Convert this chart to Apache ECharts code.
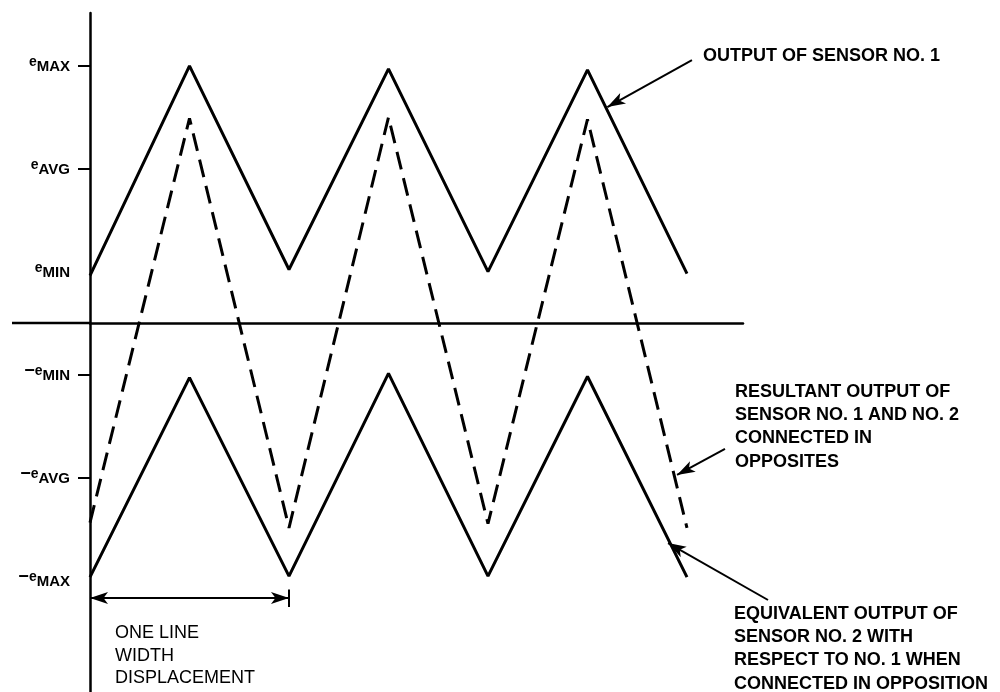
<!DOCTYPE html>
<html>
<head>
<meta charset="utf-8">
<script src="https://cdn.jsdelivr.net/npm/echarts@6/dist/echarts.min.js"></script>
<style>html,body{margin:0;padding:0;background:#fff}#c{width:1000px;height:692px}</style>
</head>
<body>
<div id="c"></div>
<script>
// Horizontal positions (in half line-width units) of the triangle vertices
var vertexX = [0, 1, 2, 3, 4, 5, 6];
// Output of sensor no. 1 (solid, top)
var sensor1 = [0.46, 2.5, 0.52, 2.47, 0.5, 2.46, 0.48];
// Equivalent output of sensor no. 2 (solid, bottom)
var sensor2 = [-2.47, -0.53, -2.46, -0.49, -2.46, -0.52, -2.47];
// Resultant output (dashed)
var resultant = [-1.94, 1.99, -1.99, 2.0, -1.95, 1.98, -1.99];

// Y-axis tick labels
var yLabelValues = [2.5, 1.5, 0.5, -0.5, -1.5, -2.5];
var yLabelText = ['{e|e}{s|MAX}', '{e|e}{s|AVG}', '{e|e}{s|MIN}', '{m|\u2212}{e|e}{s|MIN}', '{m|\u2212}{e|e}{s|AVG}', '{m|\u2212}{e|e}{s|MAX}'];
var yTickValues = [2.5, 1.5, -0.5, -1.5];

// Annotation arrows [from, to] in data units
var arrowSensor1 = [[6.05, 2.556], [5.2, 2.099]];
var arrowResultant = [[6.382, -1.224], [5.9, -1.477]];
var arrowSensor2Tip = [5.81, -2.138];
var displacement = [[0, -2.672], [2, -2.672]];
var displacementBar = [[2, -2.59], [2, -2.76]];

function pairs(xs, ys) { return xs.map(function (x, i) { return [x, ys[i]]; }); }

var chart = echarts.init(document.getElementById('c'), null, { renderer: 'canvas' });

var arrowStyle = { color: '#000', width: 2, type: 'solid' };
function arrowLine(data) {
  return {
    silent: true, animation: false,
    symbol: ['none', 'arrow'], symbolSize: [9, 18],
    label: { show: false },
    lineStyle: arrowStyle,
    data: data
  };
}

var bold = 'Liberation Sans, Arial, sans-serif';

chart.setOption({
  animation: false,
  backgroundColor: '#fff',
  grid: { left: 90, right: 257, top: 13, bottom: 0, containLabel: false },
  xAxis: {
    type: 'value', min: 0, max: 6.563,
    axisLine: { onZero: true, lineStyle: { color: '#000', width: 2.5 } },
    axisTick: { show: false }, axisLabel: { show: false }, splitLine: { show: false }
  },
  yAxis: {
    type: 'value', min: -3.586, max: 3.013,
    axisLine: { onZero: false, lineStyle: { color: '#000', width: 2.5 } },
    axisTick: { show: true, length: 12, customValues: yTickValues, lineStyle: { color: '#000', width: 2 } },
    axisLabel: {
      show: true, margin: 20, customValues: yLabelValues,
      formatter: function (v) {
        var i = yLabelValues.indexOf(v);
        return i >= 0 ? yLabelText[i] : '';
      },
      rich: {
        m: { fontFamily: bold, fontSize: 18, fontWeight: 'bold', color: '#000', padding: [0, 0, 6, 0] },
        e: { fontFamily: bold, fontSize: 14, fontWeight: 'bold', color: '#000', padding: [0, 0, 7, 0] },
        s: { fontFamily: bold, fontSize: 15, fontWeight: 'bold', color: '#000', padding: [3, 0, 0, 0] }
      }
    },
    splitLine: { show: false }
  },
  series: [
    { type: 'line', name: 'Sensor 1', data: pairs(vertexX, sensor1), showSymbol: false, symbol: 'none',
      lineStyle: { color: '#000', width: 3 },
      markLine: arrowLine([[{ coord: arrowSensor1[0] }, { coord: arrowSensor1[1] }]]) },
    { type: 'line', name: 'Resultant', data: pairs(vertexX, resultant), showSymbol: false, symbol: 'none',
      lineStyle: { color: '#000', width: 3, type: [18, 9] },
      markLine: arrowLine([[{ coord: arrowResultant[0] }, { coord: arrowResultant[1] }]]) },
    { type: 'line', name: 'Sensor 2', data: pairs(vertexX, sensor2), showSymbol: false, symbol: 'none',
      lineStyle: { color: '#000', width: 3 },
      markLine: arrowLine([[{ x: 768, y: 600 }, { coord: arrowSensor2Tip }]]) },
    { type: 'line', name: 'Displacement', data: [], showSymbol: false,
      markLine: {
        silent: true, animation: false, symbolSize: [9, 18], label: { show: false }, lineStyle: arrowStyle,
        data: [
          [{ coord: displacement[0], symbol: 'arrow' }, { coord: displacement[1], symbol: 'arrow' }],
          [{ coord: displacementBar[0], symbol: 'none' }, { coord: displacementBar[1], symbol: 'none' }]
        ]
      } }
  ],
  graphic: [
    { type: 'text', left: 703, top: 47, style: { text: 'OUTPUT OF SENSOR NO. 1', font: 'bold 18px ' + bold, fill: '#000' } },
    { type: 'text', left: 735, top: 380, style: { text: 'RESULTANT OUTPUT OF\nSENSOR NO. 1 AND NO. 2\nCONNECTED IN\nOPPOSITES', font: 'bold 18px ' + bold, lineHeight: 23.4, fill: '#000' } },
    { type: 'text', left: 734, top: 602, style: { text: 'EQUIVALENT OUTPUT OF\nSENSOR NO. 2 WITH\nRESPECT TO NO. 1 WHEN\nCONNECTED IN OPPOSITION', font: 'bold 18px ' + bold, lineHeight: 23.4, fill: '#000' } },
    { type: 'text', left: 115, top: 622, style: { text: 'ONE LINE\nWIDTH\nDISPLACEMENT', font: '18px ' + bold, lineHeight: 22.5, fill: '#000' } }
  ]
});

// Extend the horizontal axis line to the left of the vertical axis
var origin = chart.convertToPixel({ gridIndex: 0 }, [0, 0]);
chart.setOption({
  graphic: [{
    id: 'axisStub', type: 'line', silent: true,
    shape: { x1: 12, y1: origin[1], x2: origin[0], y2: origin[1] },
    style: { stroke: '#000', lineWidth: 2.5 }
  }]
});
</script>
</body>
</html>
